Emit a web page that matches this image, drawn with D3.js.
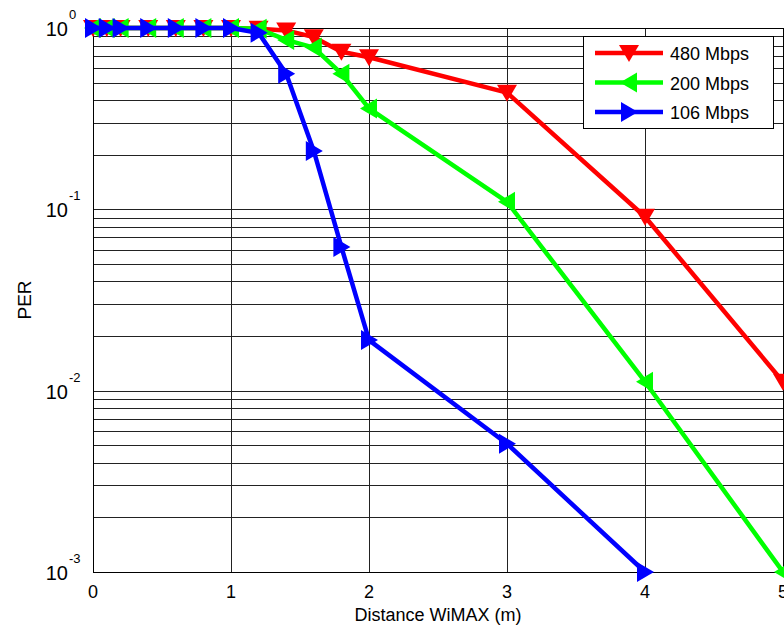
<!DOCTYPE html>
<html>
<head>
<meta charset="utf-8">
<script src="https://cdn.jsdelivr.net/npm/d3@7"></script>
<style>
  body { margin: 0; background: #fff; }
  text { font-family: "Liberation Sans", Arial, sans-serif; fill: #000; }
</style>
</head>
<body>
<script>
var distance = [0, 0.1, 0.2, 0.4, 0.6, 0.8, 1, 1.2, 1.4, 1.6, 1.8, 2, 3, 4, 5];
var per480 = [1, 1, 1, 1, 1, 1, 1, 0.99, 0.97, 0.89, 0.74, 0.69, 0.44, 0.091, 0.0112];
var per200 = [1, 1, 1, 1, 1, 1, 1, 0.99, 0.86, 0.78, 0.56, 0.36, 0.11, 0.0112, 0.001];
var per106 = [1, 1, 1, 1, 1, 1, 1, 0.94, 0.56, 0.21, 0.062, 0.019, 0.0051, 0.001];
var seriesNames = ["480 Mbps", "200 Mbps", "106 Mbps"];
var xTicks = [0, 1, 2, 3, 4, 5];
var yExponents = [0, -1, -2, -3];

var w = 784, h = 632;
var margin = {top: 28, left: 93, right: 1, bottom: 60};
var width = w - margin.left - margin.right;
var height = h - margin.top - margin.bottom;

var x = d3.scaleLinear().domain([0, 5]).range([0, width]);
var y = d3.scaleLog().domain([0.001, 1]).range([height, 0]);

var colors = ["#ff0000", "#00ff00", "#0000ff"];
// triangle shapes: down, left, right
var shapes = [
  "M-10,-8L10,-8L0,9Z",
  "M-9,0L8,-10L8,10Z",
  "M9,0L-8,-10L-8,10Z"
];

var svg = d3.select("body").append("svg")
  .attr("width", w).attr("height", h);

var chart = svg.append("g")
  .attr("transform", "translate(" + margin.left + "," + margin.top + ")");

// horizontal grid on every minor decade step
var minor = [];
for (var e = -3; e < 0; e++) {
  for (var m = 1; m < 10; m++) minor.push(m * Math.pow(10, e));
}
minor.push(1);

chart.append("g").selectAll("line")
  .data(minor).enter().append("line")
  .attr("x1", 0).attr("x2", width)
  .attr("y1", function(d){ return Math.round(y(d)) + 0.5; })
  .attr("y2", function(d){ return Math.round(y(d)) + 0.5; })
  .attr("stroke", "#222").attr("stroke-width", 1);

chart.append("g").selectAll("line")
  .data(xTicks).enter().append("line")
  .attr("x1", function(d){ return Math.round(x(d)) + 0.5; })
  .attr("x2", function(d){ return Math.round(x(d)) + 0.5; })
  .attr("y1", 0).attr("y2", height)
  .attr("stroke", "#222").attr("stroke-width", 1);

chart.append("rect")
  .attr("x", 0.5).attr("y", 0.5)
  .attr("width", width).attr("height", height)
  .attr("fill", "none").attr("stroke", "#000").attr("stroke-width", 1);

// x tick labels
chart.append("g").selectAll("text")
  .data(xTicks).enter().append("text")
  .attr("x", function(d){ return x(d); })
  .attr("y", height + 26)
  .attr("text-anchor", "middle")
  .style("font-size", "18px")
  .text(function(d){ return d; });

// y tick labels 10^e
var yl = chart.append("g").selectAll("g")
  .data(yExponents).enter().append("g")
  .attr("transform", function(d){ return "translate(-25," + y(Math.pow(10, d)) + ")"; });
yl.append("text")
  .attr("x", 0).attr("y", 8)
  .attr("text-anchor", "end")
  .style("font-size", "20px")
  .text("10");
yl.append("text")
  .attr("x", 1).attr("y", -9)
  .style("font-size", "13px")
  .text(function(d){ return d === 0 ? "0" : "-" + (-d); });

svg.append("text")
  .attr("x", margin.left + width / 2).attr("y", 621)
  .attr("text-anchor", "middle")
  .style("font-size", "18px")
  .text("Distance WiMAX (m)");

svg.append("text")
  .attr("transform", "translate(31," + (margin.top + height / 2) + ") rotate(-90)")
  .attr("text-anchor", "middle")
  .style("font-size", "19px")
  .text("PER");

var series = [per480, per200, per106];
var line = d3.line()
  .x(function(d){ return x(d[0]); })
  .y(function(d){ return y(d[1]); });

series.forEach(function(vals, i){
  var pts = vals.map(function(v, j){ return [distance[j], v]; });
  var g = chart.append("g");
  g.append("path")
    .datum(pts)
    .attr("d", line)
    .attr("fill", "none")
    .attr("stroke", colors[i])
    .attr("stroke-width", 4.5)
    .attr("stroke-linejoin", "round");
  g.selectAll("path.mk")
    .data(pts).enter().append("path")
    .attr("class", "mk")
    .attr("d", shapes[i])
    .attr("transform", function(d){ return "translate(" + x(d[0]) + "," + y(d[1]) + ")"; })
    .attr("fill", colors[i]);
});

// legend
var lg = svg.append("g").attr("transform", "translate(583,36)");
lg.append("rect")
  .attr("x", 0.5).attr("y", 0.5)
  .attr("width", 190).attr("height", 92)
  .attr("fill", "#fff").attr("stroke", "#000").attr("stroke-width", 1);
seriesNames.forEach(function(name, i){
  var ry = 17 + i * 29.5;
  lg.append("line")
    .attr("x1", 12).attr("x2", 80)
    .attr("y1", ry).attr("y2", ry)
    .attr("stroke", colors[i]).attr("stroke-width", 4.5);
  lg.append("path")
    .attr("d", shapes[i])
    .attr("transform", "translate(46," + ry + ")")
    .attr("fill", colors[i]);
  lg.append("text")
    .attr("x", 87).attr("y", ry + 7)
    .style("font-size", "18px")
    .text(name);
});
</script>
</body>
</html>
